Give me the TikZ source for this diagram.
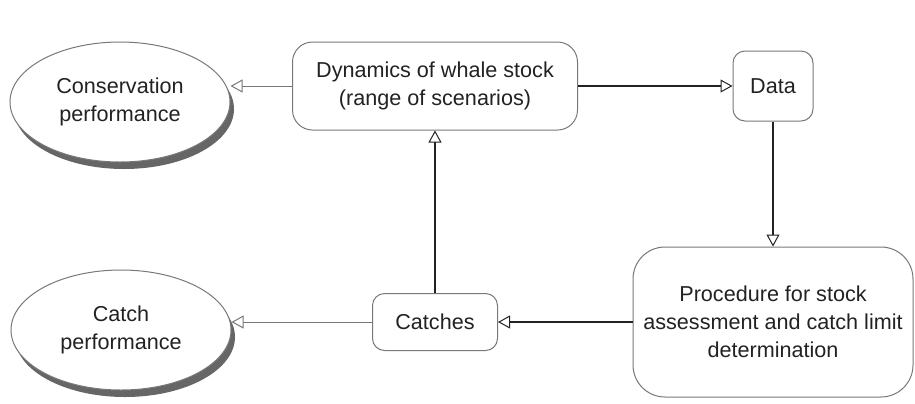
\documentclass[tikz,border=0pt]{standalone}
\usepackage{fontspec}
\setmainfont{Liberation Sans}
\usepackage{tikz}
\usetikzlibrary{shapes.geometric, arrows.meta, positioning, shadows}
\definecolor{inkgray}{RGB}{34,34,34}
\definecolor{edgegray}{RGB}{120,120,120}
\tikzset{
    process/.style={rectangle, rounded corners=10pt, draw=edgegray, line width=0.5pt, fill=white, text=inkgray, text centered, align=center, font=\fontsize{10.8}{14}\selectfont},
    outcome/.style={ellipse, draw=edgegray, line width=0.5pt, fill=white, text=inkgray, text centered, align=center, minimum width=110pt, minimum height=60pt, font=\fontsize{10.8}{14}\selectfont, drop shadow={shadow xshift=2pt, shadow yshift=-3.5pt, fill=black!60, opacity=1}},
    flow/.style={-{Triangle[open, length=6pt, width=6.5pt, line width=0.5pt]}, line width=1pt, draw=inkgray},
    report/.style={-{Triangle[open, length=6pt, width=6.5pt, line width=0.5pt]}, line width=0.5pt, draw=edgegray}
}
\begin{document}
\begin{tikzpicture}[x=0.5pt, y=-0.5pt]
    \useasboundingbox (0,0) rectangle (915,403);
    % Performance measures
    \node[outcome] (conservation) at (120,102) {Conservation\\ performance};
    \node[outcome] (catchperf) at (121,330) {Catch\\ performance};

    % Model components
    \node[process, minimum width=142.5pt, minimum height=44pt] (dynamics) at (435,86) {Dynamics of whale stock\\ (range of scenarios)};
    \node[process, rounded corners=6pt, minimum width=40pt, minimum height=35pt] (data) at (773,86) {Data};
    \node[process, rounded corners=16pt, minimum width=140pt, minimum height=75pt] (procedure) at (773,322) {Procedure for stock\\ assessment and catch limit\\ determination};
    \node[process, rounded corners=6pt, minimum width=62.5pt, minimum height=28.5pt] (catches) at (435,322) {Catches};

    % Feedback loop
    \draw[flow] (dynamics) -- (data);
    \draw[flow] (data) -- (procedure);
    \draw[flow] (procedure) -- (catches);
    \draw[flow] (catches) -- (dynamics);

    % Performance outputs
    \draw[report] (dynamics.west) -- (dynamics.west -| conservation.east);
    \draw[report] (catches.west) -- (catches.west -| catchperf.east);
\end{tikzpicture}
\end{document}
